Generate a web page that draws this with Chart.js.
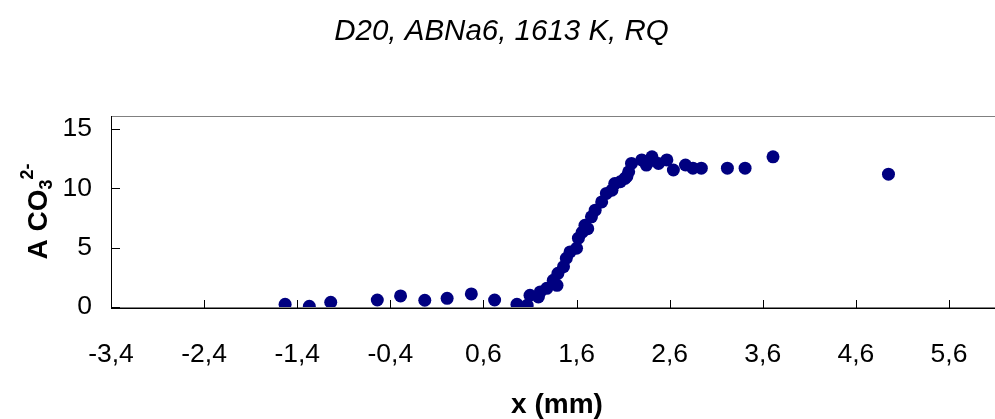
<!DOCTYPE html>
<html>
<head>
<meta charset="utf-8">
<script src="https://cdn.jsdelivr.net/npm/chart.js@4"></script>
<style>
  body { margin: 0; overflow: hidden; background: #fff; }
  #wrap { width: 1020px; height: 419px; }
</style>
</head>
<body>
<div id="wrap"><canvas id="myChart" width="1020" height="419"></canvas></div>
<script>
const titleText = "D20, ABNa6, 1613 K, RQ";
const xTitle = "x (mm)";

const xValues = [-1.53, -1.27, -1.04, -0.54, -0.29, -0.03, 0.21, 0.47, 0.72, 0.96,
  1.07, 1.10, 1.19, 1.21, 1.28, 1.35, 1.39, 1.40, 1.46, 1.49,
  1.53, 1.60, 1.62, 1.66, 1.69, 1.72, 1.76, 1.80, 1.87, 1.92,
  1.98, 2.01, 2.07, 2.12, 2.14, 2.16, 2.19, 2.30, 2.35, 2.37,
  2.41, 2.48, 2.57, 2.64, 2.77, 2.85, 2.94, 3.22, 3.41, 3.71, 4.95];
const yValues = [0.23, 0.06, 0.40, 0.59, 0.93, 0.57, 0.73, 1.10, 0.59, 0.23,
  0.14, 0.99, 0.85, 1.27, 1.57, 2.25, 1.83, 2.84, 3.40, 4.11,
  4.64, 4.95, 5.80, 6.30, 6.89, 6.60, 7.60, 8.16, 8.86, 9.57,
  9.85, 10.40, 10.56, 10.84, 11.00, 11.40, 12.10, 12.40, 11.96, 12.25,
  12.66, 12.10, 12.40, 11.55, 11.97, 11.70, 11.70, 11.70, 11.70, 12.66, 11.20];

const xTicks = [-3.4, -2.4, -1.4, -0.4, 0.6, 1.6, 2.6, 3.6, 4.6, 5.6];
const yTicks = [0, 5, 10, 15];

const fontFamily = "'Liberation Sans', Arial, sans-serif";

function MakePoints(xs, ys) {
  return xs.map((x, i) => ({ x: x, y: ys[i] }));
}

// plot frame, inside tick marks and axis titles
const framePlugin = {
  id: "frame",
  beforeDatasetsDraw(chart) {
    const ctx = chart.ctx;
    const a = chart.chartArea;
    const xs = chart.scales.x;
    const ys = chart.scales.y;
    ctx.save();
    ctx.strokeStyle = "#808080";
    ctx.lineWidth = 1;
    ctx.strokeRect(a.left + 0.5, a.top + 0.5, a.right - a.left, a.bottom - a.top);

    ctx.strokeStyle = "#000";
    ctx.beginPath();
    ctx.moveTo(a.left + 0.5, a.top);
    ctx.lineTo(a.left + 0.5, a.bottom + 1);
    ctx.moveTo(a.left, a.bottom + 1.5);
    ctx.lineTo(a.right, a.bottom + 1.5);
    xTicks.forEach(v => {
      const px = Math.round(xs.getPixelForValue(v)) + 0.5;
      ctx.moveTo(px, a.bottom + 1);
      ctx.lineTo(px, a.bottom - 7);
    });
    yTicks.forEach(v => {
      const py = Math.round(ys.getPixelForValue(v)) + 0.5;
      ctx.moveTo(a.left, py);
      ctx.lineTo(a.left + 9, py);
    });
    ctx.stroke();
    ctx.restore();
  },
  afterDraw(chart) {
    const ctx = chart.ctx;
    const a = chart.chartArea;
    ctx.save();
    ctx.fillStyle = "#000";

    // x title
    ctx.font = "bold 28px " + fontFamily;
    ctx.textAlign = "center";
    ctx.textBaseline = "middle";
    ctx.fillText(xTitle, (a.left + a.right) / 2, 405);

    // y title with sub and superscript
    const big = "bold 28px " + fontFamily;
    const small = "bold 18px " + fontFamily;
    ctx.font = big;
    const w1 = ctx.measureText("A CO").width;
    ctx.font = small;
    const w2 = ctx.measureText("3").width;
    const w3 = ctx.measureText("2-").width;
    const total = w1 + w2 + w3;
    ctx.translate(37, (a.top + a.bottom) / 2);
    ctx.rotate(-Math.PI / 2);
    ctx.textAlign = "left";
    ctx.textBaseline = "alphabetic";
    let x0 = -total / 2;
    ctx.font = big;
    ctx.fillText("A CO", x0, 10);
    ctx.font = small;
    ctx.fillText("3", x0 + w1, 15);
    ctx.fillText("2-", x0 + w1 + w2, -4);
    ctx.restore();
  }
};

function CreateChart() {
  const ctx = document.getElementById("myChart");
  const chart = new Chart(ctx, {
    type: "scatter",
    data: {
      datasets: [{
        data: MakePoints(xValues, yValues),
        backgroundColor: "#000080",
        borderWidth: 0,
        pointRadius: 6.5,
        pointHoverRadius: 6.5
      }]
    },
    options: {
      responsive: false,
      animation: false,
      devicePixelRatio: 1,
      layout: { padding: { left: 0, right: 17, top: 0, bottom: 0 } },
      plugins: {
        legend: { display: false },
        tooltip: { enabled: false },
        title: {
          display: true,
          text: titleText,
          color: "#000",
          font: { family: fontFamily, size: 29.5, style: "italic", weight: "normal", lineHeight: 1.2 },
          padding: { top: 14, bottom: 66.6 }
        }
      },
      scales: {
        x: {
          type: "linear",
          min: -3.4,
          max: 6.18,
          afterBuildTicks: scale => { scale.ticks = xTicks.map(v => ({ value: v })); },
          afterFit: scale => { scale.height = 112; },
          grid: { display: false, drawTicks: false },
          border: { display: false },
          ticks: {
            color: "#000",
            padding: 32,
            maxRotation: 0,
            autoSkip: false,
            font: { family: fontFamily, size: 26.5 },
            callback: v => v.toFixed(1).replace(".", ",")
          }
        },
        y: {
          type: "linear",
          min: 0,
          max: 16.1,
          afterBuildTicks: scale => { scale.ticks = yTicks.map(v => ({ value: v })); },
          afterFit: scale => { scale.width = 111; },
          grid: { display: false, drawTicks: false },
          border: { display: false },
          ticks: {
            color: "#000",
            padding: 19,
            font: { family: fontFamily, size: 26.5 },
            callback: v => String(v)
          }
        }
      }
    },
    plugins: [framePlugin]
  });
  return chart;
}

CreateChart();
</script>
</body>
</html>
